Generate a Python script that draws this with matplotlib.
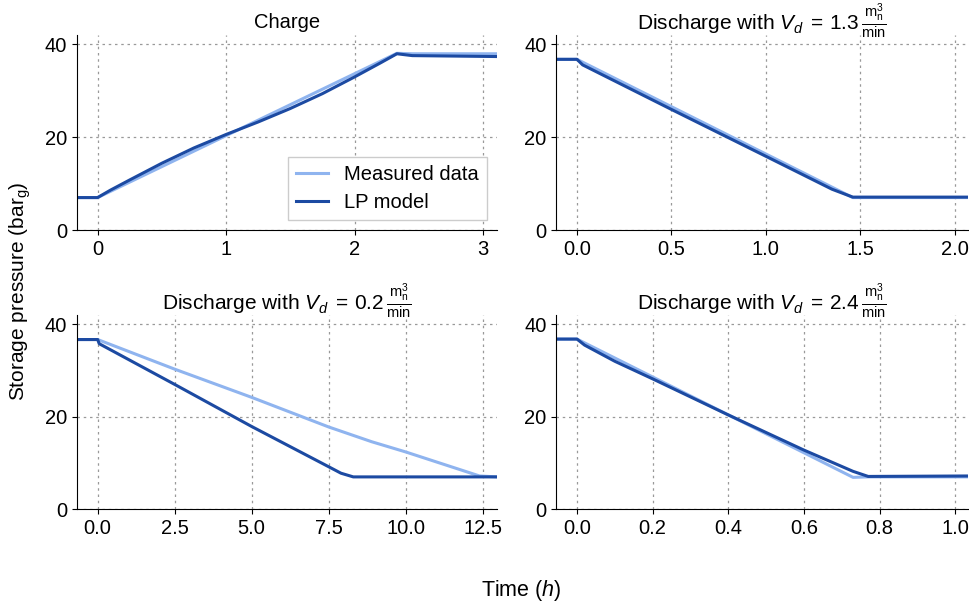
"""Storage pressure: measured data vs LP model, four test runs."""

import matplotlib

matplotlib.use("Agg")
import matplotlib.pyplot as plt

plt.rcParams["font.family"] = ["Liberation Sans", "DejaVu Sans"]
plt.rcParams["mathtext.fontset"] = "custom"
plt.rcParams["mathtext.rm"] = "Liberation Sans"
plt.rcParams["mathtext.it"] = "Liberation Sans:italic"
plt.rcParams["mathtext.bf"] = "Liberation Sans:bold"

LIGHT = "#8fb4ef"
DARK = "#1c4aa2"

# Charge
charge_meas_t = [-0.16, 0.0, 2.33, 2.45, 3.11]
charge_meas_p = [7.0, 7.0, 38.1, 38.0, 38.0]
charge_lp_t = [-0.16, 0.0, 0.1, 0.25, 0.5, 0.75, 1.0, 1.25, 1.5, 1.75, 2.0, 2.2, 2.33, 2.45, 3.11]
charge_lp_p = [7.0, 7.0, 8.6, 10.8, 14.4, 17.7, 20.6, 23.3, 26.2, 29.4, 33.0, 36.0, 38.0, 37.6, 37.4]

# Discharge 1.3 m3/min
d13_meas_t = [-0.11, 0.0, 1.46, 2.07]
d13_meas_p = [36.8, 36.8, 7.0, 7.0]
d13_lp_t = [-0.11, 0.0, 0.03, 0.5, 1.0, 1.35, 1.46, 2.07]
d13_lp_p = [36.8, 36.8, 35.6, 26.0, 15.9, 8.8, 7.1, 7.1]

# Discharge 0.2 m3/min
d02_meas_t = [-0.67, 0.0, 2.5, 5.0, 7.5, 8.9, 10.0, 12.4, 12.97]
d02_meas_p = [36.7, 36.7, 30.3, 24.2, 17.8, 14.6, 12.4, 7.2, 7.0]
d02_lp_t = [-0.67, 0.0, 0.05, 2.5, 5.0, 7.5, 7.9, 8.3, 12.97]
d02_lp_p = [36.7, 36.7, 35.8, 27.0, 17.9, 9.2, 7.8, 7.0, 7.0]

# Discharge 2.4 m3/min
d24_meas_t = [-0.055, 0.0, 0.73, 0.77, 1.034]
d24_meas_p = [36.8, 36.8, 6.9, 7.0, 7.0]
d24_lp_t = [-0.055, 0.0, 0.02, 0.1, 0.2, 0.4, 0.6, 0.73, 0.77, 1.034]
d24_lp_p = [36.8, 36.8, 35.5, 32.0, 28.2, 20.4, 12.8, 8.2, 7.1, 7.2]

FRAC = r"\,\frac{\mathrm{m_n^3}}{\mathrm{min}}"
panels = [
    ("Charge", charge_meas_t, charge_meas_p, charge_lp_t, charge_lp_p,
     (-0.16, 3.11), [0, 1, 2, 3], ["0", "1", "2", "3"]),
    (r"Discharge with $V_d\;=\,1.3" + FRAC + "$",
     d13_meas_t, d13_meas_p, d13_lp_t, d13_lp_p,
     (-0.11, 2.07), [0, 0.5, 1.0, 1.5, 2.0], ["0.0", "0.5", "1.0", "1.5", "2.0"]),
    (r"Discharge with $V_d\;=\,0.2" + FRAC + "$",
     d02_meas_t, d02_meas_p, d02_lp_t, d02_lp_p,
     (-0.67, 12.97), [0, 2.5, 5, 7.5, 10, 12.5], ["0.0", "2.5", "5.0", "7.5", "10.0", "12.5"]),
    (r"Discharge with $V_d\;=\,2.4" + FRAC + "$",
     d24_meas_t, d24_meas_p, d24_lp_t, d24_lp_p,
     (-0.055, 1.034), [0, 0.2, 0.4, 0.6, 0.8, 1.0], ["0.0", "0.2", "0.4", "0.6", "0.8", "1.0"]),
]

fig = plt.figure(figsize=(9.69, 6.07), dpi=100)
boxes = [
    (0.0795, 0.621, 0.4335, 0.321),
    (0.574, 0.621, 0.425, 0.321),
    (0.0795, 0.161, 0.4335, 0.320),
    (0.574, 0.161, 0.425, 0.320),
]

for box, (title, mt, mp, lt, lp, xlim, xt, xtl) in zip(boxes, panels):
    ax = fig.add_axes(box)
    ax.plot(mt, mp, color=LIGHT, lw=2.2, label="Measured data")
    ax.plot(lt, lp, color=DARK, lw=2.2, label="LP model")
    ax.set_xlim(*xlim); ax.set_ylim(0, 42)
    ax.set_xticks(xt); ax.set_xticklabels(xtl)
    ax.set_yticks([0, 20, 40])
    ax.tick_params(labelsize=14.5)
    ax.grid(True, ls=(0, (2, 3)), color="#999999", lw=0.9)
    ax.spines[["top", "right"]].set_visible(False)
    if title == "Charge":
        ax.set_title(title, fontsize=14.5, pad=5)
        ax.legend(loc="lower right", fontsize=14.5, fancybox=False, framealpha=1,
                  edgecolor="#cccccc", borderaxespad=0.5, handlelength=1.6,
                  borderpad=0.4, labelspacing=0.45)
    else:
        ax.set_title(title, fontsize=15, y=1.0, pad=3.6)

fig.text(0.021, 0.52, r"Storage pressure (bar$_\mathrm{g}$)", rotation=90,
         ha="center", va="center", fontsize=15)
fig.text(0.538, 0.027, r"Time ($h$)", ha="center", va="center", fontsize=15.5)

fig.savefig("out.png", dpi=100)
